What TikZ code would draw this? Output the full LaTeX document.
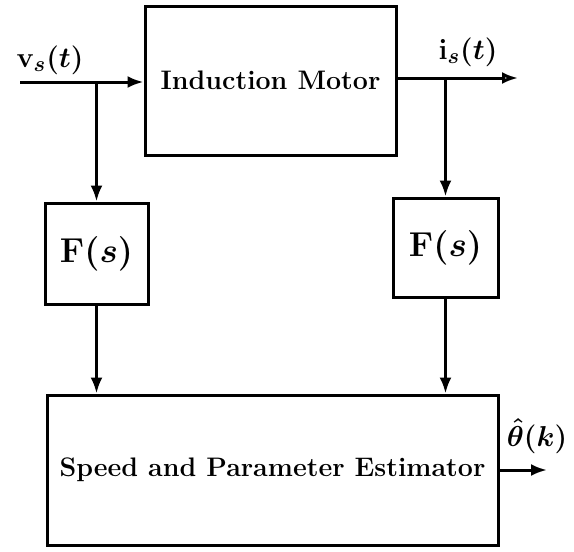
\documentclass[tikz,border=0pt]{standalone}
\usetikzlibrary{arrows.meta}
\begin{document}
\begin{tikzpicture}[x=0.5pt,y=-0.5pt, line width=1.5pt,
  blk/.style={draw, line width=1.5pt, inner sep=0pt, align=center, font=\fontsize{13.4}{15}\selectfont\bfseries\boldmath},
  mblk/.style={blk, font=\fontsize{16.5}{18}\selectfont\bfseries\boldmath},
  lbl/.style={font=\fontsize{15.5}{18}\selectfont\bfseries\boldmath, inner sep=0pt},
  arr/.style={-{Latex[length=8pt,width=6pt]}},
  oarr/.style={-{Latex[open,length=8pt,width=6pt]}}]
\useasboundingbox (0,0) rectangle (574,552);
\node[blk, minimum width=125.5pt, minimum height=74.5pt] (motor) at (270.5,80.5) {Induction Motor};
\node[mblk, minimum width=51.5pt, minimum height=50.5pt] (fl) at (96.5,253.5) {$\mathbf{F}(s)$};
\node[mblk, minimum width=52.5pt, minimum height=49.5pt] (fr) at (445.5,247.5) {$\mathbf{F}(s)$};
\node[blk, minimum width=225.5pt, minimum height=75pt] (est) at (272.5,470) {Speed and Parameter Estimator};
\coordinate (vin) at (20,82);
\coordinate (vbr) at (96.5,82);
\coordinate (iout) at (518,78);
\coordinate (ibr) at (445.5,78);
\coordinate (thout) at (547,470);
\draw[arr] (vin) -- (motor.west |- vin);
\draw[arr] (vbr) -- (fl.north);
\draw[oarr] (motor.east |- iout) -- (iout);
\draw[arr] (ibr) -- (fr.north);
\draw[arr] (fl.south) -- (est.north -| fl.south);
\draw[arr] (fr.south) -- (est.north -| fr.south);
\draw[arr] (est.east |- thout) -- (thout);
\node[lbl] (vlab) at (50,60) {$\mathbf{v}_s(t)$};
\node[lbl] (ilab) at (468,52) {$\mathbf{i}_s(t)$};
\node[lbl] (thlab) at (537,436) {$\hat{\theta}(k)$};
\end{tikzpicture}
\end{document}
